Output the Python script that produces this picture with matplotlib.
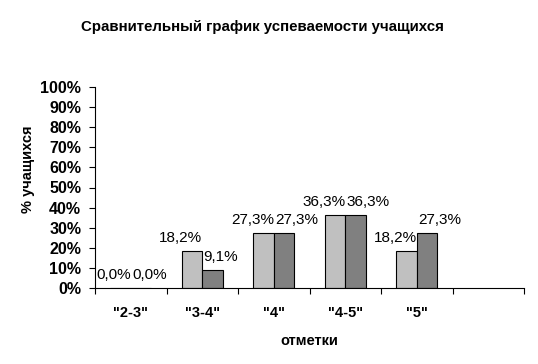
import matplotlib.pyplot as plt
import numpy as np

plt.rcParams['font.family'] = ['Liberation Sans', 'DejaVu Sans']

marks = ['"2-3"', '"3-4"', '"4"', '"4-5"', '"5"']
first = [0.0, 18.2, 27.3, 36.3, 18.2]
second = [0.0, 9.1, 27.3, 36.3, 27.3]
y_ticks = [0, 10, 20, 30, 40, 50, 60, 70, 80, 90, 100]

fig = plt.figure(figsize=(5.38, 3.64), dpi=100)
ax = fig.add_axes([95 / 538, 1 - 288 / 364, 429 / 538, 201 / 364])

x = np.arange(len(marks))
w = 0.29
ax.bar(x - w / 2, first, w, color='#c0c0c0', edgecolor='black', linewidth=0.8)
ax.bar(x + w / 2, second, w, color='#808080', edgecolor='black', linewidth=0.8)

for i in range(len(marks)):
    ax.annotate(f'{first[i]:.1f}%'.replace('.', ','), (x[i], first[i]),
                xytext=(0, 6.5), textcoords='offset points',
                ha='right', va='baseline', fontsize=11)
    ax.annotate(f'{second[i]:.1f}%'.replace('.', ','), (x[i], second[i]),
                xytext=(1, 6.5), textcoords='offset points',
                ha='left', va='baseline', fontsize=11)

ax.set_xlim(-0.5, 5.5)
ax.set_ylim(0, 100)
ax.set_yticks(y_ticks)
ax.set_yticklabels([f'{t}%' for t in y_ticks], fontweight='bold', fontsize=11.5)
ax.set_xticks(x)
ax.set_xticklabels(marks, fontweight='bold', fontsize=10.5)
ax.set_xticks(np.arange(-0.5, 6, 1), minor=True)
ax.tick_params(axis='x', which='major', length=0, pad=13)
ax.tick_params(axis='x', which='minor', length=4, width=0.8, direction='out')
ax.tick_params(axis='y', length=4, width=0.8, direction='out', pad=6)

for s in ['top', 'right']:
    ax.spines[s].set_visible(False)
for s in ['left', 'bottom']:
    ax.spines[s].set_linewidth(0.8)

ax.set_xlabel('отметки', fontweight='bold', fontsize=10.5, labelpad=10)
ax.set_ylabel('% учащихся', fontweight='bold', fontsize=10.5)
ax.yaxis.set_label_coords(-0.14, 0.59)

fig.text(262 / 538, 1 - 27 / 364, 'Сравнительный график успеваемости учащихся',
         ha='center', va='center', fontweight='bold', fontsize=10.8)

fig.savefig('out.png', dpi=100)
